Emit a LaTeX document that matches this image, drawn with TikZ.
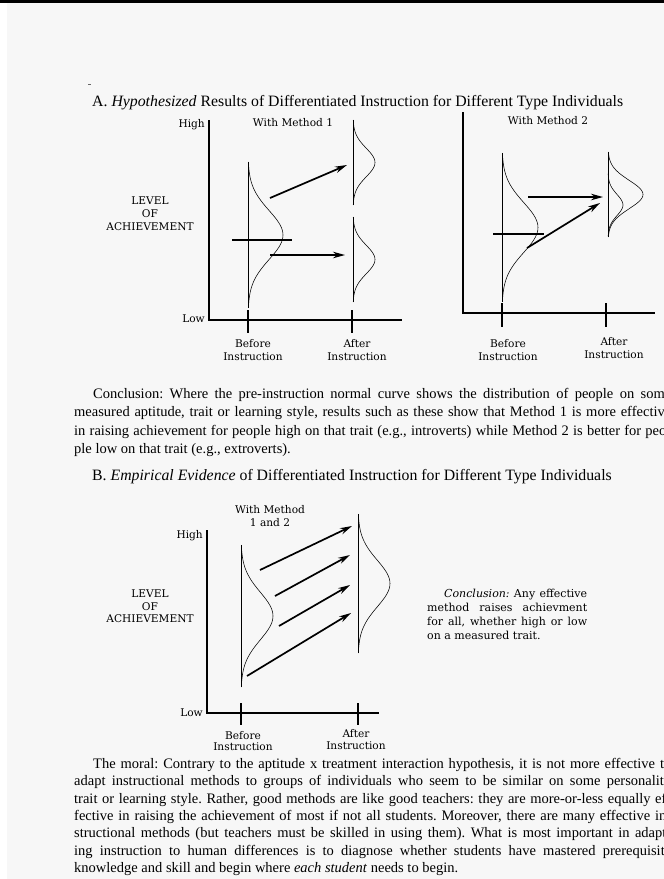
\documentclass[tikz,border=0pt]{standalone}
\usepackage{fontspec}
\setmainfont{Liberation Serif}
\newfontfamily\schfont{DejaVu Serif}
\newcommand{\bodysize}{\fontsize{14.5}{17.3}\selectfont}
\usetikzlibrary{arrows.meta,positioning}
\tikzset{
  axisline/.style={line width=1.4pt},
  tickline/.style={line width=1.2pt},
  stem/.style={line width=0.5pt},
  bell/.style={line width=0.55pt},
  cutline/.style={line width=1.1pt},
  gain/.style={line width=1.7pt,-{Stealth[length=12pt,width=6.5pt]}},
  lbl/.style={font=\schfont\fontsize{10.6}{12}\selectfont,inner sep=0pt,anchor=base},
  sidetxt/.style={font=\schfont\fontsize{11}{14}\selectfont,inner sep=0pt,anchor=base west},
  headline/.style={font=\fontsize{15.8}{18}\selectfont,inner sep=0pt,anchor=base west},
  txt/.style={font=\bodysize,inner sep=0pt,anchor=base west},
}
% normal curve standing on a vertical stem: x, top, bottom, height
\newcommand{\bellcurve}[4]{%
  \draw[stem] (#1,#2) -- (#1,#3);
  \draw[bell] plot[domain=-3:3,samples=61,smooth]
    ({#1+#4*exp(-0.5*\x*\x)},{(#2+#3)/2+(#3-#2)/6*\x});
}
\frenchspacing
\begin{document}
\begin{tikzpicture}[x=1pt,y=-1pt]
  \useasboundingbox (0,0) rectangle (664,879);
  \clip (0,0) rectangle (664,879);
  \fill[black!3] (7,0) rectangle (664,879);
  \fill[black] (0,0) rectangle (664,2.5);
  \draw[line width=0.6pt,black!60] (88,84) -- (91,84);

  % ---- part A
  \node[headline] (headA) at (92,106) {A. \textit{Hypothesized} Results of Differentiated Instruction for Different Type Individuals};

  % method 1
  \draw[axisline] (209,120) -- (209,320) -- (402,320);
  \draw[tickline] (248,310) -- (248,333);
  \draw[tickline] (352,310) -- (352,333);
  \node[lbl,anchor=base east] (hiA) at (205,127) {High};
  \node[lbl,anchor=base east] (loA) at (205,322) {Low};
  \node[lbl] (mA) at (293,126) {With Method 1};
  \node[lbl] (levA) at (150,204.5) {LEVEL};
  \node[lbl] (ofA) at (150,217.5) {OF};
  \node[lbl] (achA) at (150,230) {ACHIEVEMENT};
  \node[lbl] (bfA) at (253,347) {Before};
  \node[lbl] (biA) at (253,360) {Instruction};
  \node[lbl] (afA) at (357,347) {After};
  \node[lbl] (aiA) at (357,360) {Instruction};
  \bellcurve{248}{162}{308}{35}
  \draw[cutline] (232,240) -- (292,240);
  \bellcurve{353}{120}{205}{22}
  \bellcurve{353}{217}{302}{22}
  \coordinate (u1s) at (270,198);
  \coordinate (u1e) at (347,165);
  \coordinate (u2s) at (270,255);
  \coordinate (u2e) at (345,255);
  \draw[gain] (u1s) -- (u1e);
  \draw[gain] (u2s) -- (u2e);

  % method 2
  \draw[axisline] (463,112) -- (463,313) -- (655,313);
  \draw[tickline] (502,303) -- (502,327);
  \draw[tickline] (606,303) -- (606,327);
  \node[lbl] (mB) at (548,124) {With Method 2};
  \node[lbl] (bfB) at (508,347) {Before};
  \node[lbl] (biB) at (508,360) {Instruction};
  \node[lbl] (afB) at (614,345) {After};
  \node[lbl] (aiB) at (614,358) {Instruction};
  \bellcurve{502}{153}{302}{36}
  \draw[cutline] (493,234) -- (544,234);
  \bellcurve{608}{152}{237}{35}
  \draw[bell] plot[domain=-3:3,samples=41,smooth]
    ({608+15*exp(-0.5*\x*\x)},{205+10.5*\x});
  \coordinate (v1s) at (528,197);
  \coordinate (v1e) at (603,197);
  \coordinate (v2s) at (527,248);
  \coordinate (v2e) at (600,203);
  \draw[gain] (v1s) -- (v1e);
  \draw[gain] (v2s) -- (v2e);

  % conclusion of part A
  \node[txt] (cA1) at (93,398.5) {\makebox[578pt][s]{Conclusion: Where the pre-instruction normal curve shows the distribution of people on some}};
  \node[txt] (cA2) at (74,416.8) {\makebox[597pt][s]{measured aptitude, trait or learning style, results such as these show that Method 1 is more effective}};
  \node[txt] (cA3) at (74,435.1) {\makebox[597pt][s]{in raising achievement for people high on that trait (e.g., introverts) while Method 2 is better for peo-}};
  \node[txt] (cA4) at (74,453.4) {ple low on that trait (e.g., extroverts).};

  % ---- part B
  \node[headline] (headB) at (92,480.5) {B. \textit{Empirical Evidence} of Differentiated Instruction for Different Type Individuals};

  \draw[axisline] (207,530) -- (207,713) -- (379,713);
  \draw[tickline] (241,703) -- (241,725);
  \draw[tickline] (358,703) -- (358,725);
  \node[lbl,anchor=base east] (hiC) at (203,538) {High};
  \node[lbl,anchor=base east] (loC) at (203,716) {Low};
  \node[lbl] (mC1) at (270,513) {With Method};
  \node[lbl] (mC2) at (270,526) {1 and 2};
  \node[lbl] (levC) at (150,597) {LEVEL};
  \node[lbl] (ofC) at (150,610) {OF};
  \node[lbl] (achC) at (150,622) {ACHIEVEMENT};
  \node[lbl] (bfC) at (243,739) {Before};
  \node[lbl] (biC) at (243,750) {Instruction};
  \node[lbl] (afC) at (356,737) {After};
  \node[lbl] (aiC) at (356,749) {Instruction};
  \bellcurve{241}{545}{687}{32}
  \bellcurve{358}{514}{653}{32}
  \coordinate (w1s) at (260,570);
  \coordinate (w1e) at (352,526);
  \coordinate (w2s) at (275,596);
  \coordinate (w2e) at (350,555);
  \coordinate (w3s) at (279,626);
  \coordinate (w3e) at (350,585);
  \coordinate (w4s) at (247,676);
  \coordinate (w4e) at (351,613);
  \foreach \k in {1,...,4}
    \draw[gain] (w\k s) -- (w\k e);

  \node[sidetxt] (sC1) at (444,597) {\makebox[143pt][s]{\textit{Conclusion:} Any effective}};
  \node[sidetxt] (sC2) at (427,611) {\makebox[160pt][s]{method raises achievment}};
  \node[sidetxt] (sC3) at (427,625) {\makebox[160pt][s]{for all, whether high or low}};
  \node[sidetxt] (sC4) at (427,639) {on a measured trait.};

  % the moral
  \node[txt] (mo1) at (93,768.5) {\makebox[578pt][s]{The moral: Contrary to the aptitude x treatment interaction hypothesis, it is not more effective to}};
  \node[txt] (mo2) at (74,785.8) {\makebox[597pt][s]{adapt instructional methods to groups of individuals who seem to be similar on some personality}};
  \node[txt] (mo3) at (74,803.1) {\makebox[597pt][s]{trait or learning style. Rather, good methods are like good teachers: they are more-or-less equally ef-}};
  \node[txt] (mo4) at (74,820.4) {\makebox[597pt][s]{fective in raising the achievement of most if not all students. Moreover, there are many effective in-}};
  \node[txt] (mo5) at (74,837.7) {\makebox[597pt][s]{structional methods (but teachers must be skilled in using them). What is most important in adapt-}};
  \node[txt] (mo6) at (74,855) {\makebox[597pt][s]{ing instruction to human differences is to diagnose whether students have mastered prerequisite}};
  \node[txt] (mo7) at (74,872.3) {knowledge and skill and begin where \textit{each student} needs to begin.};
\end{tikzpicture}
\end{document}
